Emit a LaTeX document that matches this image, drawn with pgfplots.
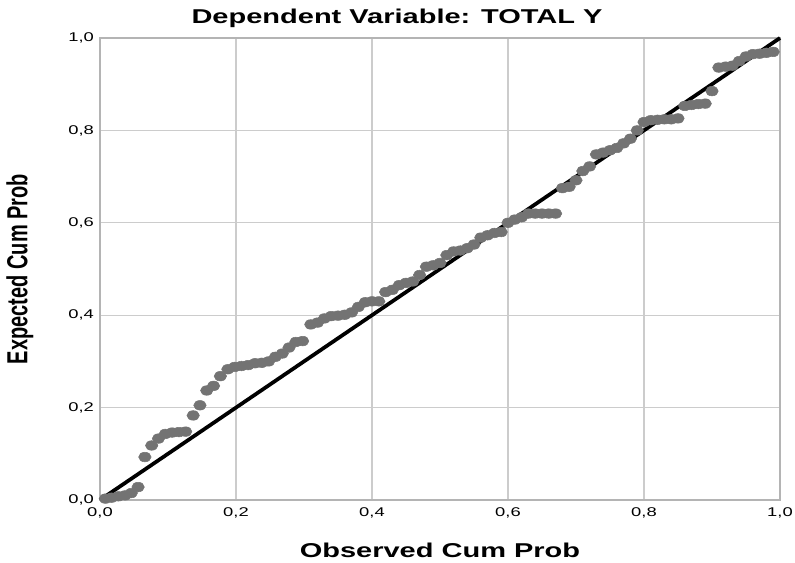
\documentclass[border=0pt]{standalone}
\usepackage{fontspec}
\setmainfont{Liberation Sans}
\usepackage{pgfplots}
\pgfplotsset{compat=1.18}
\usepackage{graphicx}

\definecolor{ptgray}{HTML}{737373}
\definecolor{gridgray}{HTML}{CCCCCC}
\definecolor{framegray}{HTML}{B4B4B4}

\newcommand{\wide}[1]{\scalebox{1.45}[1]{#1}}

\begin{document}
\begin{tikzpicture}
\useasboundingbox (-75pt,-47.25pt) rectangle (521.25pt,375pt);
\begin{axis}[
    scale only axis,
    width=510pt, height=346.5pt,
    xmin=0, xmax=1, ymin=0, ymax=1,
    xtick={0,0.2,0.4,0.6,0.8,1},
    ytick={0,0.2,0.4,0.6,0.8,1},
    major tick length=0pt,
    xmajorgrids, ymajorgrids,
    grid style={gridgray, line width=1pt},
    axis line style={framegray, line width=1pt},
    /pgf/number format/.cd, use comma, fixed, fixed zerofill, precision=1, assume math mode=true,
    /pgfplots/.cd,
    xticklabel={\wide{\pgfmathprintnumber{\tick}}},
    yticklabel={\wide{\pgfmathprintnumber{\tick}}},
    ticklabel style={font=\fontsize{9.5}{11}\selectfont},
    xticklabel style={yshift=-2pt},
    yticklabel style={xshift=-1pt},
    xlabel={\wide{\bfseries Observed Cum Prob}},
    xlabel style={at={(axis description cs:0.5,0)}, anchor=center, yshift=-37.5pt,
        font=\fontsize{15}{17}\selectfont},
    ylabel={\scalebox{1}[1.45]{\bfseries Expected Cum Prob}},
    ylabel style={at={(axis description cs:-0.118,0.5)}, anchor=center,
        font=\fontsize{15}{17}\selectfont},
    clip=false,
]
\addplot[only marks, mark=*, mark size=3.6pt, color=ptgray,
    mark options={xscale=1.3, fill=ptgray, draw=ptgray}] coordinates {
(0.008,0.003)(0.017,0.005)(0.027,0.008)(0.037,0.010)(0.046,0.015)(0.056,0.028)
(0.066,0.093)(0.076,0.118)(0.086,0.133)(0.096,0.143)(0.106,0.146)(0.116,0.147)
(0.126,0.148)(0.137,0.183)(0.147,0.205)(0.157,0.237)(0.167,0.247)(0.177,0.268)
(0.188,0.283)(0.198,0.288)(0.208,0.290)(0.218,0.292)(0.228,0.296)(0.238,0.297)
(0.248,0.300)(0.258,0.310)(0.268,0.317)(0.278,0.330)(0.288,0.342)(0.298,0.344)
(0.310,0.380)(0.320,0.384)(0.330,0.393)(0.340,0.398)(0.350,0.399)(0.360,0.401)
(0.370,0.406)(0.380,0.418)(0.390,0.428)(0.400,0.430)(0.410,0.430)(0.420,0.450)
(0.430,0.455)(0.440,0.465)(0.450,0.470)(0.460,0.473)(0.470,0.487)(0.480,0.505)
(0.490,0.508)(0.500,0.513)(0.510,0.530)(0.520,0.538)(0.530,0.540)(0.540,0.545)
(0.550,0.553)(0.560,0.568)(0.570,0.573)(0.580,0.578)(0.590,0.580)(0.600,0.600)
(0.610,0.607)(0.620,0.612)(0.630,0.620)(0.640,0.620)(0.650,0.620)(0.660,0.620)
(0.670,0.620)(0.680,0.675)(0.690,0.678)(0.700,0.692)(0.710,0.712)(0.720,0.722)
(0.730,0.748)(0.740,0.752)(0.750,0.757)(0.760,0.762)(0.770,0.772)(0.780,0.782)
(0.790,0.800)(0.800,0.818)(0.810,0.822)(0.820,0.823)(0.830,0.824)(0.840,0.824)
(0.850,0.826)(0.860,0.853)(0.870,0.855)(0.880,0.857)(0.890,0.858)(0.900,0.885)
(0.910,0.936)(0.920,0.938)(0.930,0.940)(0.940,0.950)(0.950,0.960)(0.960,0.965)
(0.970,0.966)(0.980,0.968)(0.990,0.970)
};
\addplot[black, line width=2.8pt] coordinates {(0,0) (1,1)};
\end{axis}
\node[font=\fontsize{15}{17}\selectfont\bfseries] at (222.75pt,361.5pt) {\wide{Dependent Variable: TOTAL Y}};
\end{tikzpicture}
\end{document}
